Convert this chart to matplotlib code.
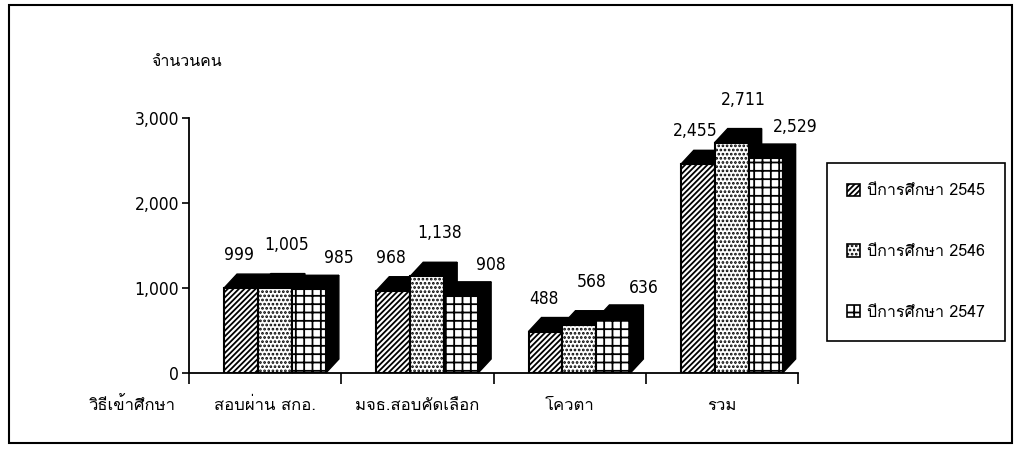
import numpy as np
import matplotlib
matplotlib.use("Agg")
import matplotlib.pyplot as plt
from matplotlib import font_manager, ft2font
from matplotlib.patches import Polygon, Rectangle, Patch


# data
categories = ["สอบผ่าน สกอ.", "มจธ.สอบคัดเลือก", "โควตา", "รวม"]
series_names = ["ปีการศึกษา 2545", "ปีการศึกษา 2546", "ปีการศึกษา 2547"]
y2545 = [999, 968, 488, 2455]
y2546 = [1005, 1138, 568, 2711]
y2547 = [985, 908, 636, 2529]
yticks = [0, 1000, 2000, 3000]
ylabel = "จำนวนคน"
xlabel = "วิธีเข้าศึกษา"


# look for a font that can draw thai
def find_thai_font():
    for f in sorted(font_manager.findSystemFonts()):
        try:
            cm = ft2font.FT2Font(f).get_charmap()
        except Exception:
            continue
        if 0x0E01 in cm and 0x0E33 in cm and 0x0E28 in cm:
            return f
    return None

# narrow latin font for the numbers, if there is one
def find_narrow_font():
    best = None
    for e in font_manager.fontManager.ttflist:
        n = e.name.lower()
        if e.weight not in (400, "normal", "regular"):
            continue
        if "italic" in e.style or "oblique" in e.style:
            continue
        if "narrow" in n or "condensed" in n or e.stretch in ("condensed", "semi-condensed"):
            if best is None or "liberation" in n:
                best = e.fname
    return best

thai_path = find_thai_font()
families = []
if thai_path:
    font_manager.fontManager.addfont(thai_path)
    families.append(font_manager.FontProperties(fname=thai_path).get_name())
families.append("DejaVu Sans")
plt.rcParams["font.family"] = families
plt.rcParams["hatch.linewidth"] = 1.3

narrow = find_narrow_font()
if narrow:
    numfont = font_manager.FontProperties(fname=narrow, size=12.5)
else:
    numfont = font_manager.FontProperties(family="Liberation Sans", size=12)

fig = plt.figure(figsize=(10.26, 4.61), dpi=100)
W, H = 1026, 461
# axes box in pixels: x 189..798, y 118..373
ax = fig.add_axes([189 / W, 1 - 373 / H, 609 / W, 255 / H])
ax.set_xlim(-0.5, 3.5)
ax.set_ylim(0, 3000)

px_x = 609 / 4.0        # pixels per category
px_y = 255 / 3000.0     # pixels per person
dx = 13 / px_x          # 3d depth
dy = 14 / px_y

bar_w = 0.223
first = -0.27
hatches = ["//////", "....", "++"]
lab_dx = [-2, 12, 30]   # label offsets in pixels
lab_dy = [33, 43, 31]

series = [y2545, y2546, y2547]
x = np.arange(len(categories))
z = 2
handles = []
for i, vals in enumerate(series):
    handles.append(Patch(facecolor="white", edgecolor="black", hatch=hatches[i], lw=1.2))

for g in range(len(categories)):
    for i, vals in enumerate(series):
        x0 = x[g] + first + i * bar_w
        h = vals[g]
        ax.bar(x0, h, width=bar_w, align="edge", facecolor="white", edgecolor="black",
               hatch=hatches[i], lw=1.5, zorder=z)
        top = [(x0, h), (x0 + bar_w, h), (x0 + bar_w + dx, h + dy), (x0 + dx, h + dy)]
        side = [(x0 + bar_w, 0), (x0 + bar_w, h), (x0 + bar_w + dx, h + dy), (x0 + bar_w + dx, dy)]
        ax.add_patch(Polygon(top, closed=True, facecolor="black", edgecolor="black", lw=1, zorder=z + 0.5, clip_on=False))
        ax.add_patch(Polygon(side, closed=True, facecolor="black", edgecolor="black", lw=1, zorder=z + 0.5, clip_on=False))
        ax.annotate(f"{h:,}", (x0 + bar_w / 2, h), xytext=(lab_dx[i], lab_dy[i]),
                    textcoords="offset pixels", ha="center", va="center",
                    fontproperties=numfont, annotation_clip=False)
        z += 1

for s in ["top", "right"]:
    ax.spines[s].set_visible(False)
ax.spines["left"].set_linewidth(1.3)
ax.spines["bottom"].set_linewidth(1.3)
ax.set_yticks(yticks)
ax.set_yticklabels([f"{v:,}" for v in yticks], fontproperties=numfont)
ax.set_xticks(np.arange(-0.5, len(categories), 1.0))
ax.set_xticklabels([])
ax.tick_params(axis="y", direction="out", length=5, width=1.2, pad=2)
ax.tick_params(axis="x", direction="out", length=8, width=1.2)

for g, c in enumerate(categories):
    ax.text(g, -0.13, c, transform=ax.get_xaxis_transform(), ha="center", va="center", fontsize=12)

fig.text(176 / W, 1 - 406 / H, xlabel, ha="right", va="center", fontsize=12)
fig.text(151 / W, 1 - 62 / H, ylabel, ha="left", va="center", fontsize=11.5)

leg = fig.legend(handles=handles, labels=series_names, loc="center",
                 bbox_to_anchor=(916 / W, 1 - 252 / H), fontsize=11.5,
                 frameon=True, fancybox=False, edgecolor="black", framealpha=1,
                 handlelength=0.8, handleheight=0.8, handletextpad=0.4,
                 labelspacing=2.8, borderpad=1.3)
leg.get_frame().set_linewidth(1.2)

# outer frame around the whole chart
fig.add_artist(Rectangle((9 / W, 1 - 443 / H), 1003 / W, 438 / H, transform=fig.transFigure,
                         fill=False, edgecolor="black", lw=1.5))

fig.savefig("out.png", dpi=100)
